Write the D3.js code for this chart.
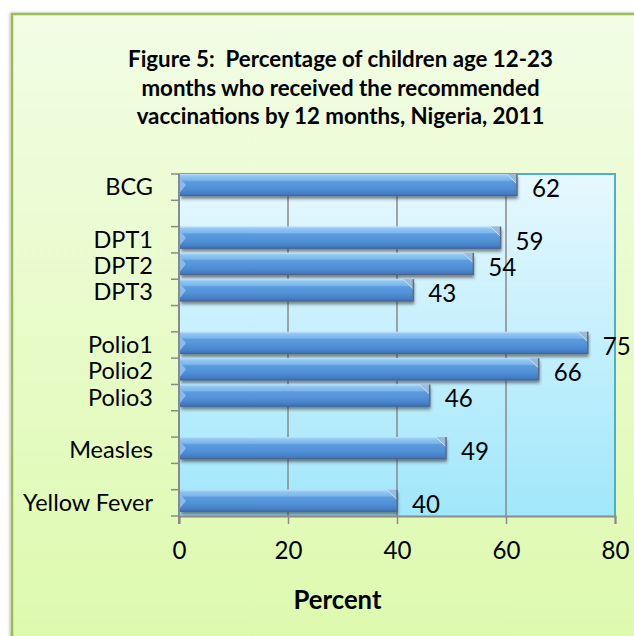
<!DOCTYPE html>
<html><head><meta charset="utf-8">
<script src="https://cdn.jsdelivr.net/npm/d3@7"></script>
<style>body{margin:0;background:#fff} svg{display:block}</style>
</head><body><svg id="c" width="634" height="636"></svg>
<script>
const titleLines = ["Figure 5:  Percentage of children age 12-23","months who received the recommended","vaccinations by 12 months, Nigeria, 2011"];
const categories = ["BCG","","DPT1","DPT2","DPT3","","Polio1","Polio2","Polio3","","Measles","","Yellow Fever"];
const values = [62,null,59,54,43,null,75,66,46,null,49,null,40];
const xTicks = [0,20,40,60,80];
const xTitle = "Percent";

const FONT = "Lato, 'Noto Sans', sans-serif";
const svg = d3.select("#c");
const defs = svg.append("defs");

function lg(id, stops){
  const g = defs.append("linearGradient").attr("id",id).attr("x1",0).attr("y1",0).attr("x2",0).attr("y2",1);
  stops.forEach(s=>g.append("stop").attr("offset",s[0]).attr("stop-color",s[1]));
}
lg("frameBg",[[0,"#f2fde5"],[1,"#dbf9a7"]]);
lg("plotBg",[[0,"#e6f8fe"],[1,"#a1e7fb"]]);
lg("barG",[[0,"#a9d4f6"],[0.1,"#92c6f2"],[0.28,"#7ab5ec"],[0.34,"#5c9bdd"],[0.65,"#5190d6"],[0.85,"#4680c8"],[1,"#3c6eb3"]]);
const f = defs.append("filter").attr("id","sh").attr("x","-5%").attr("y","-30%").attr("width","115%").attr("height","170%");
f.append("feDropShadow").attr("dx",1).attr("dy",3).attr("stdDeviation",1.6).attr("flood-color","#333").attr("flood-opacity",0.55);
const f2 = defs.append("filter").attr("id","fsh").attr("x","-5%").attr("y","-5%").attr("width","110%").attr("height","110%");
f2.append("feDropShadow").attr("dx",-1).attr("dy",0).attr("stdDeviation",1.5).attr("flood-color","#000").attr("flood-opacity",0.25);

// frame
svg.append("rect").attr("x",12).attr("y",14).attr("width",700).attr("height",700)
  .attr("fill","url(#frameBg)").attr("stroke","#9bbb59").attr("stroke-width",2.5).attr("filter","url(#fsh)");

const x = d3.scaleLinear().domain([0,80]).range([179,615]);
const y = d3.scaleBand().domain(d3.range(categories.length)).range([174,516]);
const bw = y.bandwidth();

// plot area
svg.append("rect").attr("x",x(0)).attr("y",y.range()[0]).attr("width",x(80)-x(0)).attr("height",y.range()[1]-y.range()[0])
  .attr("fill","url(#plotBg)");
// gridlines
svg.append("g").selectAll("line").data(xTicks.filter(t=>t>0 && t<80)).join("line")
  .attr("x1",d=>x(d)).attr("x2",d=>x(d)).attr("y1",y.range()[0]).attr("y2",y.range()[1])
  .attr("stroke","#8a8a8a").attr("stroke-width",1.5);
// top/right border
svg.append("path").attr("d",`M${x(0)},${y.range()[0]}H${x(80)}V${y.range()[1]}`)
  .attr("fill","none").attr("stroke","#4eaecb").attr("stroke-width",2);

// bars
const data = categories.map((c,i)=>({i,c,v:values[i]})).filter(d=>d.v!=null);
const bars = svg.append("g").selectAll("g").data(data).join("g");
const bh = bw*0.84;
bars.append("rect").attr("x",x(0)+1).attr("y",d=>y(d.i)).attr("width",d=>x(d.v)-x(0)-1).attr("height",bh)
  .attr("fill","url(#barG)").attr("filter","url(#sh)");
bars.append("path").attr("d",d=>{const t=y(d.i);return `M${x(0)+1},${t+bh*0.2}L${x(0)+7},${t+bh*0.5}L${x(0)+1},${t+bh*0.84}Z`;})
  .attr("fill","#8dc1ef").attr("opacity",0.9);
bars.append("path").attr("d",d=>{const t=y(d.i),e=x(d.v);return `M${e-10},${t}L${e},${t}L${e},${t+10}Z`;})
  .attr("fill","#9fb9d6").attr("opacity",0.95);
bars.append("path").attr("d",d=>{const t=y(d.i),e=x(d.v);return `M${e-10},${t}L${e},${t+10}`;})
  .attr("stroke","#c8e2f8").attr("stroke-width",1);
bars.append("line").attr("x1",d=>x(d.v)).attr("x2",d=>x(d.v)).attr("y1",d=>y(d.i)).attr("y2",d=>y(d.i)+bh)
  .attr("stroke","#5a6c86").attr("stroke-width",1.5);
bars.append("line").attr("x1",x(0)+1).attr("x2",d=>x(d.v)-10).attr("y1",d=>y(d.i)+0.5).attr("y2",d=>y(d.i)+0.5)
  .attr("stroke","#b9dcf8").attr("stroke-width",1);
bars.append("line").attr("x1",x(0)+1).attr("x2",d=>x(d.v)).attr("y1",d=>y(d.i)+bh-0.5).attr("y2",d=>y(d.i)+bh-0.5)
  .attr("stroke","#4a6590").attr("stroke-width",1);

// axes
const xa = svg.append("g").attr("transform",`translate(0,${y.range()[1]})`)
  .call(d3.axisBottom(x).tickValues(xTicks).tickSize(8).tickFormat(d3.format("d")));
xa.select(".domain").attr("stroke","#8a8a8a").attr("stroke-width",2);
xa.selectAll(".tick line").attr("stroke","#8a8a8a").attr("stroke-width",1.5);
xa.selectAll("text").attr("y",43).attr("dy",0).attr("fill","#000").attr("font-family",FONT);

const ya = svg.append("g").attr("transform",`translate(${x(0)},0)`)
  .call(d3.axisLeft(y).tickSize(0).tickFormat(i=>categories[i]));
ya.select(".domain").remove();
ya.selectAll(".tick text").attr("x",-26).attr("dy",0).attr("y",8).attr("fill","#000").attr("font-family",FONT);
svg.append("line").attr("x1",x(0)).attr("x2",x(0)).attr("y1",y.range()[0]).attr("y2",y.range()[1]+8)
  .attr("stroke","#8a8a8a").attr("stroke-width",2);
const bounds = y.domain().map(d=>y(d)).concat([y.range()[1]]);
svg.append("g").selectAll("line").data(bounds).join("line")
  .attr("x1",x(0)-8).attr("x2",x(0)).attr("y1",d=>d).attr("y2",d=>d)
  .attr("stroke","#8a8a8a").attr("stroke-width",1.5);

// value labels
const vl = svg.append("g").selectAll("text").data(data).join("text")
  .attr("x",d=>x(d.v)+15).attr("y",d=>y(d.i)+23).text(d=>d.v)
  .attr("font-family",FONT).attr("fill","#000");

// title
const tt = svg.append("g").selectAll("text").data(titleLines).join("text")
  .attr("x",340.5).attr("y",(d,i)=>67+i*28.7).attr("text-anchor","middle")
  .style("white-space","pre")
  .attr("font-family",FONT).attr("font-weight","bold").attr("fill","#000").text(d=>d);
const xt = svg.append("text").attr("x",337.5).attr("y",609).attr("text-anchor","middle")
  .attr("font-family",FONT).attr("font-weight","bold").attr("fill","#000").text(xTitle);

// fit font sizes to measured widths
function fitSize(sel, refNode, target){
  sel.attr("font-size",100);
  const w = refNode.getComputedTextLength();
  sel.attr("font-size",100*target/w);
}
fitSize(tt, tt.node(), 425);
fitSize(xt, xt.node(), 88);
const yText = ya.selectAll(".tick text");
fitSize(yText, yText.filter(function(){return this.textContent==="Yellow Fever";}).node(), 130);
const numText = xa.selectAll("text");
fitSize(numText, numText.filter(function(){return this.textContent==="80";}).node(), 28);
vl.attr("font-size", numText.attr("font-size"));
</script></body></html>
